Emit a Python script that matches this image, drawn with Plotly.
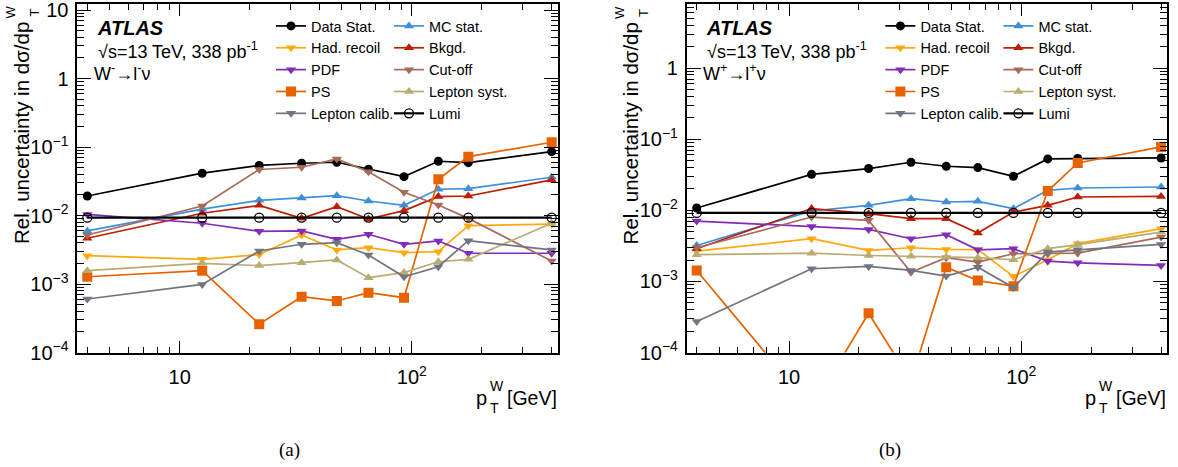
import plotly.graph_objects as go

W, H = 1178, 467

# ---------------- data ----------------
pt_w = [4, 12.5, 22, 33.5, 47.5, 65, 92.5, 130, 175, 400]

series_names = ["Data Stat.", "MC stat.", "Had. recoil", "Bkgd.", "PDF", "Cut-off",
                "PS", "Lepton syst.", "Lepton calib.", "Lumi"]

# W- -> l- nu  (panel a)
wm_data_stat = [0.0193, 0.0415, 0.054, 0.058, 0.060, 0.0474, 0.037, 0.062, 0.0592, 0.0857]
wm_mc_stat = [0.00596, 0.0124, 0.0167, 0.0181, 0.0195, 0.0163, 0.0141, 0.0242, 0.0247, 0.0362]
wm_had_recoil = [0.0026, 0.0023, 0.0027, 0.0052, 0.00315, 0.0034, 0.00287, 0.00297, 0.00712, 0.0075]
wm_bkgd = [0.00466, 0.0108, 0.0141, 0.0091, 0.0135, 0.00892, 0.0118, 0.0189, 0.0193, 0.0331]
wm_pdf = [0.0104, 0.00772, 0.00589, 0.00596, 0.00451, 0.00533, 0.00381, 0.00426, 0.00282, 0.00282]
wm_cutoff = [0.00521, 0.0138, 0.047, 0.0507, 0.067, 0.0437, 0.0219, 0.0143, 0.0091, 0.00217]
wm_ps = [0.00128, 0.00157, 0.00026, 0.000655, 0.000567, 0.000749, 0.000633, 0.0339, 0.0724, 0.1175]
wm_lep_syst = [0.00157, 0.00201, 0.00186, 0.00205, 0.00225, 0.00124, 0.00147, 0.00212, 0.0023, 0.00772]
wm_lep_calib = [0.000606, 0.00099, 0.00304, 0.00381, 0.00402, 0.00266, 0.00128, 0.00179, 0.0043, 0.00315]
wm_lumi = [0.0093, 0.0093, 0.0093, 0.0093, 0.0093, 0.0093, 0.0093, 0.0093, 0.0093, 0.0093]

# W+ -> l+ nu  (panel b)
wp_data_stat = [0.0108, 0.0321, 0.0387, 0.0474, 0.0417, 0.0399, 0.0301, 0.0528, 0.0535, 0.0545]
wp_mc_stat = [0.00321, 0.0098, 0.01176, 0.0146, 0.0131, 0.0134, 0.01057, 0.0191, 0.0206, 0.0213]
wp_had_recoil = [0.00267, 0.00399, 0.00273, 0.00298, 0.00282, 0.0028, 0.00118, 0.00202, 0.0034, 0.00553]
wp_bkgd = [0.00289, 0.0106, 0.00899, 0.00764, 0.00764, 0.00479, 0.00946, 0.01176, 0.0154, 0.0157]
wp_pdf = [0.00707, 0.00595, 0.0054, 0.00399, 0.00455, 0.00279, 0.00289, 0.00193, 0.00183, 0.00168]
wp_cutoff = [0.00298, 0.00805, 0.00723, 0.00135, 0.00216, 0.00187, 0.00245, 0.00245, 0.0025, 0.00421]
wp_ps = [0.00143, 0.0000165, 0.000358, 0.00004, 0.00159, 0.00103, 0.00086, 0.0187, 0.0464, 0.078]
wp_lep_syst = [0.00238, 0.0025, 0.00232, 0.00227, 0.0022, 0.00216, 0.00202, 0.00289, 0.0033, 0.00495]
wp_lep_calib = [0.000273, 0.00151, 0.00163, 0.00143, 0.00119, 0.00159, 0.00082, 0.00259, 0.00279, 0.00332]
wp_lumi = [0.0092, 0.0092, 0.0092, 0.0092, 0.0092, 0.0092, 0.0092, 0.0092, 0.0092, 0.0092]

x_tickvals = [10, 100]
x_ticktext = ["10", "10<sup>2</sup>"]
y_tickvals = [1e-4, 1e-3, 1e-2, 1e-1, 1, 10]
y_ticktext = ["10<sup>\u22124</sup>", "10<sup>\u22123</sup>", "10<sup>\u22122</sup>",
              "10<sup>\u22121</sup>", "1", "10"]

# ---------------- styles ----------------
colors = ["#000000", "#3f90da", "#ffa90e", "#bd1f01", "#832db6", "#a96b59",
          "#e76300", "#b9ac70", "#717581", "#000000"]
symbols = ["circle", "triangle-up", "triangle-down", "triangle-up", "triangle-down",
           "triangle-down", "square", "triangle-up", "triangle-down", "circle-open"]
msizes = [9, 9, 9, 9, 9, 9, 10, 9, 9, 9]
lwidths = [1.7, 1.7, 1.7, 1.7, 1.7, 1.7, 1.7, 1.7, 1.7, 2.2]

panels = [
    [wm_data_stat, wm_mc_stat, wm_had_recoil, wm_bkgd, wm_pdf, wm_cutoff,
     wm_ps, wm_lep_syst, wm_lep_calib, wm_lumi],
    [wp_data_stat, wp_mc_stat, wp_had_recoil, wp_bkgd, wp_pdf, wp_cutoff,
     wp_ps, wp_lep_syst, wp_lep_calib, wp_lumi],
]

def xp(px):
    return px / W

def yp(py):
    return 1 - py / H

FONT = "Liberation Sans, Arial, sans-serif"

fig = go.Figure()

left_px = [77.3, 686.7]
plot_w = 480.4
frame_top, frame_bot = 4.0, 352.6

legend_names = [["legend", "legend2"], ["legend3", "legend4"]]

for p, values in enumerate(panels):
    xa = "x" if p == 0 else "x2"
    ya = "y" if p == 0 else "y2"
    for i, name in enumerate(series_names):
        col = i % 2
        fig.add_trace(go.Scatter(
            x=pt_w, y=values[i], name=name, mode="lines+markers",
            xaxis=xa, yaxis=ya,
            line=dict(color=colors[i], width=lwidths[i]),
            marker=dict(symbol=symbols[i], size=msizes[i], color=colors[i],
                        line=dict(width=1.3 if i == 9 else 0, color=colors[i])),
            legend=legend_names[p][col],
            showlegend=True,
            legendgroup=f"p{p}_{i}",
        ))

minor_x = [v * m for v in (1, 10, 100) for m in range(2, 10) if 3.5 <= v * m <= 430 and v * m not in (10, 100)]
minor_y = [d * m for d in (1e-4, 1e-3, 1e-2, 1e-1, 1) for m in range(2, 10)]

def xaxis_cfg(p):
    l = left_px[p]
    return dict(
        type="log", domain=[xp(l), xp(l + plot_w)], range=[0.559, 2.628],
        tickvals=x_tickvals, ticktext=x_ticktext,
        ticks="inside", ticklen=12, tickwidth=1.3, tickcolor="black",
        showline=True, linecolor="black", linewidth=1.6, mirror="ticks",
        showgrid=False, zeroline=False, automargin=False,
        tickfont=dict(family=FONT, size=20, color="black"),
        ticklabelstandoff=6, ticklabeloverflow="allow",
        minor=dict(tickvals=minor_x, ticks="inside", ticklen=6, tickwidth=1.1,
                   tickcolor="black", showgrid=False),
        anchor="y" if p == 0 else "y2",
    )

def yaxis_cfg(p, top):
    return dict(
        type="log", domain=[yp(frame_bot), yp(frame_top)], range=[-4, top],
        tickvals=y_tickvals, ticktext=y_ticktext,
        ticks="inside", ticklen=14, tickwidth=1.3, tickcolor="black",
        showline=True, linecolor="black", linewidth=1.6, mirror="ticks",
        showgrid=False, zeroline=False, automargin=False,
        tickfont=dict(family=FONT, size=20, color="black"),
        ticklabelstandoff=3, ticklabeloverflow="allow",
        minor=dict(tickvals=minor_y, ticks="inside", ticklen=7, tickwidth=1.1,
                   tickcolor="black", showgrid=False),
        anchor="x" if p == 0 else "x2",
    )

annotations = []

def ann(text, x, y, xanchor, yanchor, size, family=FONT, angle=0):
    annotations.append(dict(text=text, x=x, y=y, xref="paper", yref="paper",
                            xanchor=xanchor, yanchor=yanchor, textangle=angle,
                            showarrow=False,
                            font=dict(family=family, size=size, color="black")))

for p in range(2):
    off = left_px[p] - left_px[0]
    ann("<b><i>ATLAS</i></b>", xp(95 + off), yp(28), "left", "middle", 20)
    ann("\u221as=13 TeV, 338 pb<sup>-1</sup>", xp(96 + off), yp(50), "left", "middle", 18)
    chan = "W<sup>-</sup>\u2192l<sup>-</sup>\u03bd" if p == 0 else "W<sup>+</sup>\u2192l<sup>+</sup>\u03bd"
    ann(chan, xp(92 + off), yp(72), "left", "middle", 18)
    # x-axis title: p_T^W [GeV]
    ann("[GeV]", xp(559 + off), yp(398), "right", "middle", 19.5)
    ann("p", xp(489 + off), yp(398), "right", "middle", 20)
    ann("T", xp(488 + off), yp(408), "left", "middle", 14)
    ann("W", xp(488 + off), yp(386), "left", "middle", 14)
    # y-axis title
    ann("Rel. uncertainty in d\u03c3/dp", xp(21 + off), yp(20), "center", "top", 20.5, angle=-90)
    ann("T", xp(34 + off), yp(12.5), "center", "middle", 13, angle=-90)
    ann("W", xp(10.5 + off), yp(12), "center", "middle", 13, angle=-90)
    # caption
    ann("(a)" if p == 0 else "(b)", xp(289 if p == 0 else 890), yp(450), "center", "middle", 19,
        family="Liberation Serif, Times New Roman, serif")

def legend_cfg(xpx, ypx):
    return dict(x=xp(xpx), y=yp(ypx), xanchor="left", yanchor="top",
                bgcolor="rgba(0,0,0,0)", borderwidth=0,
                font=dict(family=FONT, size=14.5, color="black"),
                tracegroupgap=0, itemwidth=30, traceorder="normal")

layout_legends = {}
for p in range(2):
    off = left_px[p] - left_px[0]
    layout_legends[legend_names[p][0]] = legend_cfg(271 + off, 10)
    layout_legends[legend_names[p][1]] = legend_cfg(389 + off, 10)

fig.update_layout(
    template="none",
    width=W, height=H, autosize=False,
    margin=dict(l=0, r=0, t=0, b=0, pad=0, autoexpand=False),
    paper_bgcolor="white", plot_bgcolor="white",
    xaxis=xaxis_cfg(0), xaxis2=xaxis_cfg(1),
    yaxis=yaxis_cfg(0, 1.0876), yaxis2=yaxis_cfg(1, 0.901),
    annotations=annotations,
    **layout_legends,
)

fig.write_html("out.html", config={"displayModeBar": False},
               post_script="document.body.style.margin='0px';")
